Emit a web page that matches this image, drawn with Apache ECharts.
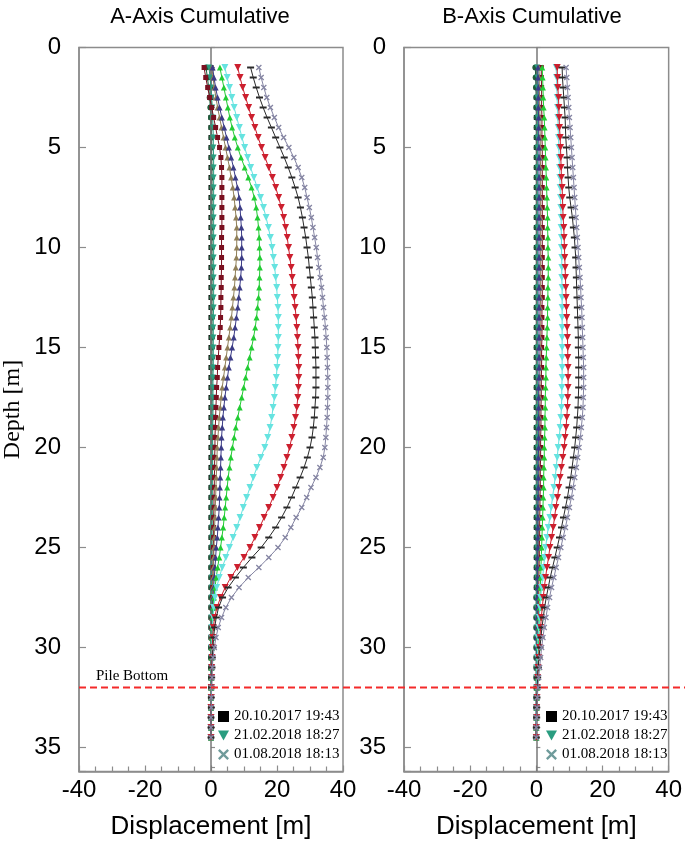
<!DOCTYPE html>
<html><head><meta charset="utf-8">
<script src="https://cdn.jsdelivr.net/npm/echarts@6/dist/echarts.min.js"></script>
<style>html,body{margin:0;padding:0;background:#fff}#c{width:685px;height:846px}</style>
</head><body><div id="c"></div>
<script>
// Depth of each reading [m]
const depth = [1,1.5,2,2.5,3,3.5,4,4.5,5,5.5, 6,6.5,7,7.5,8,8.5,9,9.5,10,10.5,
  11,11.5,12,12.5,13,13.5,14,14.5,15,15.5, 16,16.5,17,17.5,18,18.5,19,19.5,
  20,20.5,21,21.5,22,22.5,23,23.5,24,24.5, 25,25.5,26,26.5,27,27.5,28,28.5,29,29.5,
  30,30.5,31,31.5,32,32.5,33,33.5,34,34.5];
const xTicks = [-40,-20,0,20,40];
const yTicks = [0,5,10,15,20,25,30,35];
const pileDepth = 32;
const names = ['20.10.2017 19:43','Reading 2','21.02.2018 18:27','Reading 4','Reading 5','Reading 6','Reading 7','Reading 8','Reading 9','Reading 10','01.08.2018 18:13'];

// ---- A-Axis cumulative displacement ----
const A_zero = [0,0,0,0,0,0,0,0,0,0, 0,0,0,0,0,0,0,0,0,0, 0,0,0,0,0,0,0,0,0,0, 0,0,0,0,0,0,0,0,
  0,0,0,0,0,0,0,0,0,0, 0,0,0,0,0,0,0,0,0,0, 0,0,0,0,0,0,0,0,0,0];
const A_dkgreen = [-1.5,-1.1,-0.7,-0.4,-0.2,0,0.1,0.2,0.2,0.2, 0.3,0.3,0.3,0.3,0.3,0.3,0.3,0.3,0.3,0.3,
  0.3,0.3,0.3,0.3,0.3,0.3,0.3,0.3,0.3,0.3, 0.3,0.3,0.3,0.3,0.3,0.3,0.3,0.3,
  0.3,0.3,0.3,0.3,0.2,0.2,0.2,0.2,0.2,0.2, 0.2,0.1,0.1,0.1,0.1,0.1,0.1,0.1,0.1,0.1, 0,0,0,0,0,0,0,0,0,0];
const A_teal = [-0.6,-0.3,0,0.2,0.4,0.5,0.6,0.7,0.7,0.8, 0.8,0.8,0.8,0.8,0.8,0.8,0.8,0.8,0.8,0.8,
  0.8,0.8,0.8,0.8,0.8,0.7,0.7,0.7,0.7,0.7, 0.7,0.6,0.6,0.6,0.6,0.6,0.5,0.5,
  0.5,0.5,0.5,0.4,0.4,0.4,0.4,0.4,0.3,0.3, 0.3,0.3,0.3,0.2,0.2,0.2,0.2,0.1,0.1,0.1, 0.1,0.1,0,0,0,0,0,0,0,0];
const A_maroon = [-2.1,-1.6,-1.0,-0.4,0.2,0.8,1.4,2.0,2.6,3.0, 3.2,3.3,3.3,3.3,3.3,3.3,3.3,3.2,3.2,3.2,
  3.2,3.1,3.1,3.0,3.0,2.9,2.8,2.6,2.4,2.2, 2.0,1.9,1.7,1.6,1.5,1.4,1.3,1.2,
  1.2,1.1,1.1,1.0,1.0,0.9,0.9,0.8,0.8,0.8, 0.7,0.7,0.6,0.6,0.5,0.5,0.4,0.4,0.3,0.3, 0.2,0.2,0.1,0.1,0.1,0,0,0,0,0];
const A_olive = [0.3,0.6,1.0,1.5,2.0,2.6,3.2,3.8,4.4,5.0, 5.6,6.1,6.6,7.0,7.3,7.6,7.8,7.8,7.8,7.7,
  7.5,7.3,7.1,6.8,6.5,6.2,5.8,5.4,5.0,4.6, 4.2,3.8,3.4,3.1,2.8,2.5,2.3,2.1,
  1.9,1.8,1.7,1.6,1.5,1.4,1.3,1.2,1.1,1.0, 0.9,0.8,0.7,0.6,0.5,0.4,0.4,0.3,0.3,0.2, 0.2,0.1,0.1,0.1,0,0,0,0,0,0];
const A_navy = [0.5,0.9,1.4,2.0,2.6,3.3,4.0,4.7,5.4,6.1, 6.8,7.4,8.0,8.5,8.8,9.0,9.2,9.3,9.3,9.3,
  9.2,9.0,8.7,8.4,8.1,7.7,7.3,6.9,6.4,5.9, 5.4,5.0,4.6,4.2,3.9,3.6,3.4,3.2,
  3.1,3.0,2.9,2.8,2.7,2.6,2.5,2.3,2.1,1.9, 1.6,1.4,1.2,1.0,0.8,0.6,0.5,0.4,0.3,0.3, 0.2,0.2,0.1,0.1,0.1,0,0,0,0,0];
const A_green = [2.7,3.3,3.9,4.5,5.1,5.7,6.4,7.2,8.1,9.1, 10.2,11.3,12.3,13.1,13.7,14.1,14.4,14.6,14.7,14.8,
  14.8,14.7,14.6,14.4,14.1,13.8,13.4,12.9,12.3,11.7, 11.1,10.5,9.9,9.3,8.7,8.1,7.5,7.0,
  6.5,6.0,5.6,5.2,4.9,4.6,4.3,4.0,3.7,3.3, 2.9,2.5,2.0,1.6,1.2,0.9,0.7,0.5,0.4,0.3, 0.2,0.2,0.1,0.1,0.1,0,0,0,0,0];
const A_cyan = [4.2,4.9,5.6,6.3,7.0,7.8,8.6,9.4,10.2,11.1, 12.0,13.0,14.0,15.0,15.9,16.7,17.4,18.0,18.5,18.9,
  19.3,19.6,19.9,20.1,20.3,20.4,20.4,20.4,20.3,20.2, 20.0,19.8,19.5,19.2,18.8,18.4,17.9,17.2,
  16.3,15.1,13.9,12.8,11.8,10.8,9.8,8.8,7.8,6.7, 5.6,4.5,3.4,2.5,1.7,1.2,0.8,0.6,0.4,0.3, 0.2,0.2,0.1,0.1,0.1,0,0,0,0,0];
const A_red = [8.1,8.8,9.6,10.5,11.4,12.3,13.3,14.3,15.3,16.4, 17.5,18.6,19.6,20.5,21.3,22.0,22.6,23.1,23.5,23.9,
  24.3,24.6,24.9,25.2,25.5,25.8,26.0,26.2,26.4,26.5, 26.6,26.6,26.5,26.3,26.0,25.6,25.1,24.5,
  23.8,23.0,22.1,21.1,20.0,18.8,17.5,16.1,14.7,13.3, 11.8,10.0,8.0,6.0,4.3,2.9,1.8,1.1,0.7,0.5, 0.4,0.3,0.2,0.2,0.1,0.1,0,0,0,0];
const A_dash = [12.0,12.8,13.7,14.7,15.8,17.0,18.3,19.6,20.9,22.2, 23.4,24.5,25.5,26.4,27.1,27.7,28.2,28.7,29.1,29.5,
  29.8,30.1,30.4,30.7,30.9,31.1,31.3,31.5,31.6,31.7, 31.8,31.8,31.8,31.7,31.5,31.3,31.0,30.6,
  30.0,29.2,28.2,27.0,25.7,24.4,23.0,21.4,19.6,17.5, 15.2,12.4,9.8,7.4,5.2,3.5,2.3,1.6,1.1,0.8, 0.6,0.4,0.3,0.2,0.2,0.1,0.1,0,0,0];
const A_gray = [14.5,15.2,16.0,16.9,18.0,19.2,20.5,22.0,23.6,25.1, 26.4,27.5,28.4,29.1,29.8,30.4,30.9,31.4,31.9,32.3,
  32.7,33.1,33.5,33.8,34.1,34.4,34.7,34.9,35.1,35.2, 35.3,35.4,35.4,35.4,35.3,35.2,35.0,34.8,
  34.5,34.0,33.0,31.8,30.3,29.0,27.5,25.8,24.2,22.5, 20.3,17.5,14.5,11.3,8.5,6.2,4.5,3.2,2.2,1.5, 1.0,0.6,0.4,0.3,0.2,0.1,0.1,0,0,0];

// ---- B-Axis cumulative displacement ----
const B_zero = [0,0,0,0,0,0,0,0,0,0, 0,0,0,0,0,0,0,0,0,0, 0,0,0,0,0,0,0,0,0,0, 0,0,0,0,0,0,0,0,
  0,0,0,0,0,0,0,0,0,0, 0,0,0,0,0,0,0,0,0,0, 0,0,0,0,0,0,0,0,0,0];
const B_dkgreen = [-0.3,-0.2,-0.1,0,0,0.1,0.1,0.1,0.1,0.1, 0.1,0.1,0.1,0.1,0.1,0.1,0.1,0.1,0.1,0.1,
  0.1,0.1,0.1,0.1,0.1,0.1,0.1,0.1,0.1,0.1, 0.1,0.1,0.1,0.1,0.1,0.1,0.1,0.1,
  0.1,0.1,0.1,0.1,0.1,0.1,0.1,0.1,0.1,0.1, 0.1,0.1,0.1,0.1,0.1,0,0,0,0,0, 0,0,0,0,0,0,0,0,0,0];
const B_teal = [0.3,0.3,0.3,0.3,0.4,0.4,0.4,0.4,0.4,0.4, 0.4,0.4,0.4,0.4,0.4,0.4,0.4,0.4,0.4,0.4,
  0.4,0.4,0.4,0.4,0.4,0.4,0.4,0.4,0.4,0.4, 0.4,0.4,0.4,0.4,0.4,0.4,0.4,0.4,
  0.4,0.4,0.3,0.3,0.3,0.3,0.3,0.3,0.3,0.3, 0.2,0.2,0.2,0.2,0.2,0.1,0.1,0.1,0.1,0.1, 0.1,0.1,0,0,0,0,0,0,0,0];
const B_maroon = [1.5,1.5,1.6,1.6,1.6,1.7,1.7,1.7,1.8,1.8, 1.8,1.8,1.8,1.8,1.8,1.8,1.8,1.8,1.8,1.8,
  1.8,1.8,1.8,1.8,1.7,1.7,1.7,1.7,1.6,1.6, 1.6,1.5,1.5,1.5,1.4,1.4,1.4,1.3,
  1.3,1.3,1.2,1.2,1.2,1.1,1.1,1.0,1.0,1.0, 0.9,0.9,0.8,0.8,0.7,0.7,0.6,0.6,0.5,0.5, 0.4,0.3,0.3,0.2,0.2,0.1,0.1,0,0,0];
const B_olive = [0.8,0.9,0.9,1.0,1.0,1.1,1.1,1.2,1.2,1.2, 1.3,1.3,1.3,1.3,1.3,1.3,1.3,1.3,1.3,1.3,
  1.3,1.3,1.3,1.3,1.2,1.2,1.2,1.2,1.2,1.2, 1.1,1.1,1.1,1.1,1.0,1.0,1.0,1.0,
  0.9,0.9,0.9,0.9,0.8,0.8,0.8,0.8,0.7,0.7, 0.7,0.6,0.6,0.6,0.5,0.5,0.5,0.4,0.4,0.4, 0.3,0.3,0.2,0.2,0.1,0.1,0.1,0,0,0];
const B_navy = [0.5,0.5,0.6,0.6,0.6,0.7,0.7,0.7,0.8,0.8, 0.8,0.8,0.8,0.8,0.8,0.8,0.8,0.8,0.8,0.8,
  0.8,0.8,0.8,0.8,0.8,0.8,0.8,0.8,0.8,0.8, 0.8,0.8,0.7,0.7,0.7,0.7,0.7,0.7,
  0.7,0.6,0.6,0.6,0.6,0.6,0.5,0.5,0.5,0.5, 0.5,0.4,0.4,0.4,0.4,0.3,0.3,0.3,0.3,0.2, 0.2,0.2,0.1,0.1,0.1,0,0,0,0,0];
const B_green = [1.8,1.9,2.0,2.1,2.2,2.4,2.5,2.6,2.7,2.8, 2.9,3.0,3.1,3.2,3.3,3.4,3.4,3.5,3.5,3.6,
  3.6,3.6,3.5,3.5,3.4,3.4,3.3,3.2,3.1,3.0, 2.9,2.9,2.8,2.7,2.7,2.6,2.6,2.5,
  2.4,2.4,2.3,2.2,2.2,2.1,2.0,1.9,1.8,1.7, 1.6,1.5,1.4,1.3,1.2,1.1,1.0,0.9,0.8,0.7, 0.6,0.5,0.4,0.3,0.2,0.2,0.1,0.1,0,0];
const B_cyan = [6.0,6.1,6.2,6.3,6.4,6.5,6.6,6.7,6.8,6.9, 7.0,7.1,7.2,7.3,7.4,7.5,7.5,7.6,7.6,7.7,
  7.7,7.7,7.8,7.8,7.8,7.8,7.8,7.8,7.8,7.8, 7.8,7.8,7.7,7.7,7.6,7.4,7.2,6.9,
  6.6,6.3,6.0,5.7,5.3,4.9,4.5,4.1,3.6,3.2, 2.8,2.5,2.2,1.9,1.6,1.3,1.1,0.9,0.7,0.5, 0.4,0.3,0.2,0.2,0.1,0.1,0,0,0,0];
const B_red = [6.3,6.4,6.5,6.7,6.8,6.9,7.0,7.2,7.3,7.4, 7.5,7.6,7.8,7.9,8.0,8.1,8.3,8.4,8.5,8.6,
  8.7,8.8,8.9,9.0,9.1,9.2,9.3,9.4,9.5,9.5, 9.6,9.6,9.6,9.5,9.4,9.2,9.0,8.7,
  8.4,8.0,7.6,7.2,6.8,6.4,5.9,5.5,5.1,4.6, 4.1,3.7,3.2,2.8,2.4,2.1,1.8,1.5,1.3,1.1, 0.9,0.7,0.5,0.4,0.3,0.2,0.1,0.1,0,0];
const B_dash = [7.8,7.9,8.1,8.3,8.5,8.7,8.8,8.9,9.1,9.3, 9.4,9.6,9.8,10.1,10.5,10.9,11.2,11.5,11.7,11.9,
  12.0,12.1,12.2,12.3,12.4,12.5,12.6,12.7,12.7,12.8, 12.8,12.8,12.8,12.7,12.6,12.4,12.2,11.9,
  11.6,11.2,10.8,10.4,9.9,9.4,8.8,8.2,7.6,7.0, 6.3,5.6,4.9,4.2,3.6,3.0,2.5,2.1,1.7,1.4, 1.1,0.8,0.6,0.4,0.3,0.2,0.1,0.1,0,0];
const B_gray = [9.0,9.2,9.4,9.6,9.8,10.0,10.2,10.4,10.6,10.8, 11.0,11.2,11.4,11.6,11.8,12.0,12.2,12.4,12.6,12.8,
  13.0,13.2,13.4,13.5,13.7,13.8,13.9,14.0,14.1,14.2, 14.3,14.3,14.3,14.2,14.1,13.9,13.6,13.3,
  12.9,12.5,12.1,11.6,11.1,10.6,10.0,9.4,8.8,8.1, 7.4,6.7,6.0,5.3,4.6,4.0,3.4,2.9,2.4,2.0, 1.6,1.3,1.0,0.7,0.5,0.3,0.2,0.1,0,0];

const A_sets = [A_zero,A_dkgreen,A_teal,A_maroon,A_olive,A_navy,A_green,A_cyan,A_red,A_dash,A_gray];
const B_sets = [B_zero,B_dkgreen,B_teal,B_maroon,B_olive,B_navy,B_green,B_cyan,B_red,B_dash,B_gray];

const DOWN = 'path://M0,0 L10,0 L5,9 Z';
const DASH = 'path://M0,0 L10,0 L10,3 L0,3 Z';
const XS = 'path://M0,1.5 L1.5,0 L5,3.5 L8.5,0 L10,1.5 L6.5,5 L10,8.5 L8.5,10 L5,6.5 L1.5,10 L0,8.5 L3.5,5 Z';
const looks = [
  {color:'#000000', symbol:'rect', size:5},
  {color:'#1d5c3a', symbol:'circle', size:6},
  {color:'#2a9d80', symbol:DOWN, size:6},
  {color:'#7a1020', symbol:'rect', size:5},
  {color:'#8f7f58', symbol:'triangle', size:6},
  {color:'#3b3b86', symbol:'triangle', size:6},
  {color:'#22cc33', symbol:'triangle', size:6},
  {color:'#66e3e0', symbol:DOWN, size:7},
  {color:'#cc1f2e', symbol:DOWN, size:7},
  {color:'#2a2a2a', symbol:DASH, size:[7,2]},
  {color:'#8585a3', symbol:XS, size:6}
];

const GRAY = '#8c8c8c';
function build(sets, gi) {
  return sets.map((vals, k) => {
    const s = {
      type:'line', name:names[k], xAxisIndex:gi, yAxisIndex:gi*2,
      data: vals.map((v, i) => [v, depth[i]]),
      symbol: looks[k].symbol, symbolSize: looks[k].size, showSymbol:true,
      lineStyle:{color:looks[k].color, width:1}, itemStyle:{color:looks[k].color},
      animation:false, z: 3 + k
    };
    if (k === 0) {
      s.markLine = {silent:true, symbol:'none', label:{show:false}, animation:false,
        lineStyle:{color:'#777', width:1.5, type:'solid'}, data:[{xAxis:0}]};
    }
    return s;
  });
}

const grids = [{left:78, top:47.5, width:265, height:724}, {left:404, top:47.5, width:267, height:724}];
const fontSans = 'Liberation Sans';
function xAx(gi) {
  return {type:'value', gridIndex:gi, min:-40, max:40, interval:20, position:'bottom',
    axisLine:{show:true, onZero:false, lineStyle:{color:GRAY, width:1.5}},
    axisTick:{show:true, inside:true, length:6, lineStyle:{color:GRAY, width:1.2}},
    minorTick:{show:true, splitNumber:4, length:5, lineStyle:{color:GRAY, width:1.2}},
    splitLine:{show:false},
    axisLabel:{fontFamily:fontSans, fontSize:24, color:'#000', margin:7,
      formatter: v => xTicks.indexOf(v) >= 0 ? String(v) : ''},
    name:'Displacement [m]', nameLocation:'middle', nameGap:42,
    nameTextStyle:{fontFamily:fontSans, fontSize:26, color:'#000'}};
}
function yAx(gi, withName) {
  const main = {type:'value', gridIndex:gi, min:0, max:36.2, interval:5, inverse:true, position:'left',
    axisLine:{show:true, onZero:false, lineStyle:{color:GRAY, width:1.5}},
    axisTick:{show:true, inside:true, length:7, lineStyle:{color:GRAY, width:1.2}},
    splitLine:{show:false},
    axisLabel:{fontFamily:fontSans, fontSize:24, color:'#000', margin:18,
      formatter: v => yTicks.indexOf(v) >= 0 ? String(v) : ''}};
  if (withName) {
    main.name = 'Depth [m]'; main.nameLocation = 'middle'; main.nameRotate = 90; main.nameGap = 54;
    main.nameTextStyle = {fontFamily:'Liberation Serif', fontSize:24, color:'#000'};
  }
  const minor = {type:'value', gridIndex:gi, min:0, max:36.2, interval:1, inverse:true, position:'left',
    axisLine:{show:false}, axisLabel:{show:false}, splitLine:{show:false},
    axisTick:{show:true, inside:true, length:4, lineStyle:{color:GRAY, width:1.2}}};
  return [main, minor];
}

const legendItems = [
  {name:names[0], icon:'rect', itemStyle:{color:'#000'}},
  {name:names[2], icon:DOWN, itemStyle:{color:'#2a9d80'}},
  {name:names[10], icon:XS, itemStyle:{color:'#6f9b9b'}}
];
function leg(left) {
  return {orient:'vertical', left:left, top:704, itemGap:4, itemWidth:11, itemHeight:11,
    selectedMode:false, data:legendItems,
    textStyle:{fontFamily:'Liberation Serif', fontSize:15, color:'#000', lineHeight:15}};
}

const option = {
  backgroundColor:'#fff', animation:false,
  grid: grids.map(g => Object.assign({show:true, borderColor:GRAY, borderWidth:1.5, backgroundColor:'transparent'}, g)),
  xAxis: [xAx(0), xAx(1)],
  yAxis: [].concat(yAx(0, true), yAx(1, false)),
  legend: [leg(213), leg(541)],
  series: [].concat(build(A_sets, 0), build(B_sets, 1))
};

const chart = echarts.init(document.getElementById('c'), null, {renderer:'canvas'});
chart.setOption(option);
const yPile = chart.convertToPixel({yAxisIndex:0}, pileDepth);
const xLeft = chart.convertToPixel({xAxisIndex:0}, -40);
chart.setOption({graphic:[
  {type:'text', x:200, y:17, style:{text:'A-Axis Cumulative', font:'22px Liberation Sans', fill:'#000', textAlign:'center', textVerticalAlign:'middle'}},
  {type:'text', x:532, y:17, style:{text:'B-Axis Cumulative', font:'22px Liberation Sans', fill:'#000', textAlign:'center', textVerticalAlign:'middle'}},
  {type:'line', z:100, shape:{x1:xLeft, y1:yPile, x2:685, y2:yPile}, style:{stroke:'#f42a2a', lineWidth:1.8, lineDash:[7,4]}},
  {type:'text', z:100, x:xLeft+17, y:yPile-4, style:{text:'Pile Bottom', font:'15px Liberation Serif', fill:'#000', textVerticalAlign:'bottom'}}
]});
</script></body></html>
